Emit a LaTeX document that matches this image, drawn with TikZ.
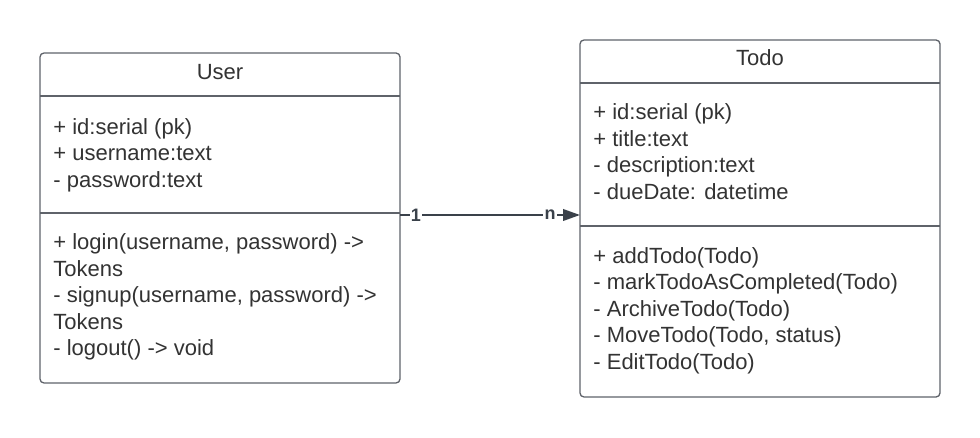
\documentclass[tikz,border=0pt]{standalone}
\usepackage{fontspec}
\setmainfont{Liberation Sans}
\usetikzlibrary{arrows.meta}

\definecolor{boxline}{HTML}{5F636A}
\definecolor{inkgray}{HTML}{333333}
\definecolor{assocink}{HTML}{3A414A}

\begin{document}
\begin{tikzpicture}[x=0.5pt, y=-0.5pt,
    classbox/.style={draw=boxline, line width=0.65pt, rounded corners=2pt, fill=white},
    member/.style={anchor=base west, inner sep=0pt, text=inkgray, font=\fontsize{11}{13}\selectfont},
    title/.style={anchor=base, inner sep=0pt, text=inkgray, font=\fontsize{11}{13}\selectfont},
    mult/.style={fill=white, inner sep=0.6pt, text=assocink, font=\fontsize{9}{11}\selectfont\bfseries}]
  % Page size of the reference, with its white margins
  \useasboundingbox (0,0) rectangle (980,438);

  % Class User
  \draw[classbox] (40,53) rectangle (400,383);
  \draw[boxline, line width=0.65pt] (40,96) -- (400,96);
  \draw[boxline, line width=0.65pt] (40,213) -- (400,213);
  \node[title] (usertitle) at (220,80) {User};
  \foreach \txt [count=\i] in {+ id:serial (pk), + username:text, - password:text} {
    \node[member] (ua-\i) at (53,134.5+26.4*\i-26.4) {\txt};
  }
  \foreach \txt [count=\i] in {{+ login(username, password) ->}, Tokens,
      {- signup(username, password) ->}, Tokens, - logout() -> void} {
    \node[member] (um-\i) at (53,250+26.4*\i-26.4) {\txt};
  }

  % Class Todo
  \draw[classbox] (580,40) rectangle (940,397);
  \draw[boxline, line width=0.65pt] (580,83) -- (940,83);
  \draw[boxline, line width=0.65pt] (580,226) -- (940,226);
  \node[title] (todotitle) at (760,66) {Todo};
  \foreach \txt [count=\i] in {+ id:serial (pk), + title:text, - description:text,
      - dueDate: datetime} {
    \node[member] (ta-\i) at (593,120+26.4*\i-26.4) {\txt};
  }
  \foreach \txt [count=\i] in {+ addTodo(Todo), - markTodoAsCompleted(Todo),
      - ArchiveTodo(Todo), {- MoveTodo(Todo, status)}, - EditTodo(Todo)} {
    \node[member] (tm-\i) at (593,263.5+26.4*\i-26.4) {\txt};
  }

  % Association User 1 -- n Todo
  \coordinate (userend) at (400,215);
  \coordinate (todoend) at (580,215);
  \draw[assocink, line width=1pt, -{Triangle[length=8.5pt, width=5.8pt]}] (userend) -- (todoend);
  \node[mult] (multone) at (416,215) {1};
  \node[mult] (multn) at (550,215) {n};
\end{tikzpicture}
\end{document}
